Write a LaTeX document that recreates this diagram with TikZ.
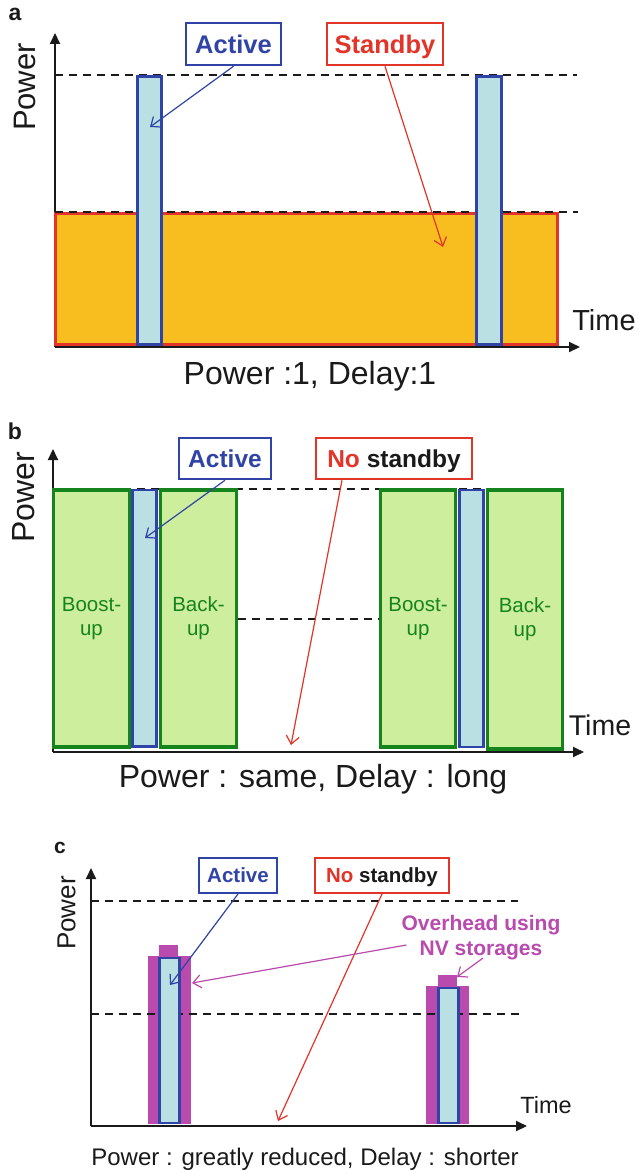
\documentclass[tikz,border=0pt]{standalone}
\usepackage{fontspec}
\setmainfont{Liberation Sans}
\usetikzlibrary{arrows.meta}

\definecolor{actblue}{RGB}{47,68,166}
\definecolor{actfill}{RGB}{187,224,227}
\definecolor{stdred}{RGB}{227,52,42}
\definecolor{stdorange}{RGB}{248,189,31}
\definecolor{bkgreen}{RGB}{22,132,28}
\definecolor{bkfill}{RGB}{205,238,157}
\definecolor{nvpurple}{RGB}{185,74,174}
\definecolor{ink}{RGB}{26,26,26}

\newcommand\fsz[2]{\fontsize{#1}{#2}\selectfont}

\tikzset{
  axis/.style={draw=ink, line width=2pt, -{Triangle[length=11pt,width=10pt]}},
  guide/.style={draw=ink, line width=1.8pt, dash pattern=on 8pt off 6pt},
  actbar/.style={draw=actblue, fill=actfill, line width=3pt},
  nvbar/.style={fill=nvpurple, draw=none},
  phase/.style={draw=bkgreen, fill=bkfill, line width=3.5pt, text=bkgreen,
    align=center, font=\fsz{20.5}{24}, inner sep=0pt},
  tag/.style={fill=white, line width=2.5pt, inner sep=0pt, text depth=0pt},
  callout/.style={line width=1.2pt, -{Straight Barb[length=8pt,width=13pt,line width=1.2pt]}},
  axlabel/.style={text=ink, rotate=90, inner sep=0pt},
  ptitle/.style={text=ink, inner sep=0pt},
  caption/.style={text=ink, anchor=base, inner sep=0pt},
}

\begin{document}
\begin{tikzpicture}[x=1pt,y=-1pt]
\useasboundingbox (0,0) rectangle (639,1172);
\fill[white] (0,0) rectangle (639,1172);

% ---------------- panel a: active bursts over continuous standby ----------------
\node[ptitle, font=\bfseries\fsz{23}{28}] (labA) at (15,14) {a};
\node[axlabel, font=\fsz{31}{36}] (powA) at (24.5,87) {Power};
\draw[axis] (55,347) -- (55,33);
\draw[axis] (55,347) -- (580,347);
\draw[stdred, fill=stdorange, line width=3pt] (55.5,213) rectangle (557,344);
\draw[guide] (55,75) -- (577,75);
\draw[guide] (55,212) -- (578,212);
\draw[actbar] (137.5,76.5) rectangle (161.5,344.5);
\draw[actbar] (476.5,76.5) rectangle (501.5,344.5);
\node[tag, draw=actblue, text=actblue, font=\bfseries\fsz{25.5}{30}, text height=18.3pt,
  minimum width=95pt, minimum height=42pt] (actA) at (233.5,44) {Active};
\node[tag, draw=stdred, text=stdred, font=\bfseries\fsz{25.5}{30}, text height=18.3pt,
  minimum width=116pt, minimum height=42pt] (stbA) at (385,44) {Standby};
\coordinate (actAtip) at (150,127);
\coordinate (stbAtip) at (443,247);
\draw[callout, actblue] (actA.south) -- (actAtip);
\draw[callout, stdred] (stbA.south) -- (stbAtip);
\node[caption, font=\fsz{29}{34}] (timeA) at (604,330) {Time};
\node[caption, font=\fsz{32}{38}] (capA) at (310,384) {Power :1, Delay:1};

% ---------------- panel b: boost-up and back-up around each burst ----------------
\node[ptitle, font=\bfseries\fsz{23}{28}] (labB) at (15,431) {b};
\node[axlabel, font=\fsz{32}{38}] (powB) at (23.5,497) {Power};
\draw[axis] (53,752) -- (53,449);
\draw[axis] (53,752) -- (584,752);
\draw[guide] (53,489) -- (560,489);
\draw[guide] (238,619) -- (380,619);
\node[phase, minimum width=76pt, minimum height=257pt] (boostB1) at (91.5,618.5) {Boost-\\up};
\node[phase, minimum width=76pt, minimum height=257pt] (backB1) at (198.5,618.5) {Back-\\up};
\node[phase, minimum width=75pt, minimum height=257pt] (boostB2) at (418,618.5) {Boost-\\up};
\node[phase, minimum width=75pt, minimum height=259pt] (backB2) at (525,619.5) {Back-\\up};
\draw[actbar, line width=2.6pt] (132.5,490) rectangle (156.5,746.5);
\draw[actbar, line width=2.6pt] (459.5,490) rectangle (483.5,747);
\node[tag, draw=actblue, text=actblue, font=\bfseries\fsz{24.5}{29}, text height=17.5pt,
  minimum width=92pt, minimum height=41pt] (actB) at (225,458.5) {Active};
\node[tag, draw=stdred, text=ink, font=\bfseries\fsz{24.5}{29}, text height=17.5pt,
  minimum width=156pt, minimum height=41pt] (nsB) at (394,458.5) {{\color{stdred}No} standby};
\coordinate (actBtip) at (145,538);
\coordinate (nsBtip) at (291,745);
\draw[callout, actblue] (actB.south) -- (actBtip);
\draw[callout, stdred] ([xshift=-52pt]nsB.south) -- (nsBtip);
\node[caption, font=\fsz{28.5}{34}] (timeB) at (600,735) {Time};
\node[caption, font=\fsz{32}{38}] (capB) at (313,787) {Power : same, Delay : long};

% ---------------- panel c: short bursts with NV storage overhead ----------------
\node[ptitle, font=\bfseries\fsz{21}{26}] (labC) at (60,848) {c};
\node[axlabel, font=\fsz{26}{31}] (powC) at (66.5,913) {Power};
\draw[guide] (91,901) -- (518,901);
\fill[nvpurple] (148,956) rectangle (191,1124);
\fill[nvpurple] (159,945) rectangle (178,957);
\fill[nvpurple] (426,986) rectangle (469,1124);
\fill[nvpurple] (438,975) rectangle (457,987);
\draw[guide] (91,1014) -- (520,1014);
\draw[actbar, line width=2.5pt] (159.5,958) rectangle (179.5,1123);
\draw[actbar, line width=2.5pt] (438.5,988) rectangle (458.5,1123);
\draw[axis] (91,1126) -- (91,868);
\draw[axis] (91,1126) -- (527,1126);
\node[tag, draw=actblue, text=actblue, line width=2pt, font=\bfseries\fsz{20.5}{25}, text height=14.7pt,
  minimum width=78pt, minimum height=35pt] (actC) at (238,875.5) {Active};
\node[tag, draw=stdred, text=ink, line width=2pt, font=\bfseries\fsz{20.5}{25}, text height=14.7pt,
  minimum width=134pt, minimum height=35pt] (nsC) at (382,875.5) {{\color{stdred}No} standby};
\node[text=nvpurple, font=\bfseries\fsz{21}{25}, align=center, inner sep=0pt] (ovh) at (481,938)
  {Overhead using\\NV storages};
\coordinate (actCtip) at (170,985);
\coordinate (nsCtip) at (278,1121);
\coordinate (ovhTipA) at (192,983);
\coordinate (ovhTipB) at (457,977);
\draw[callout, actblue] (actC.south) -- (actCtip);
\draw[callout, stdred] (nsC.south) -- (nsCtip);
\draw[callout, nvpurple] ([xshift=5pt,yshift=-7pt]ovh.west) -- (ovhTipA);
\draw[callout, nvpurple] ([xshift=2pt,yshift=2.5pt]ovh.south) -- (ovhTipB);
\node[caption, font=\fsz{23.5}{28}] (timeC) at (546,1113) {Time};
\node[caption, font=\fsz{24}{29}] (capC) at (305,1165) {Power : greatly reduced, Delay : shorter};
\end{tikzpicture}
\end{document}
